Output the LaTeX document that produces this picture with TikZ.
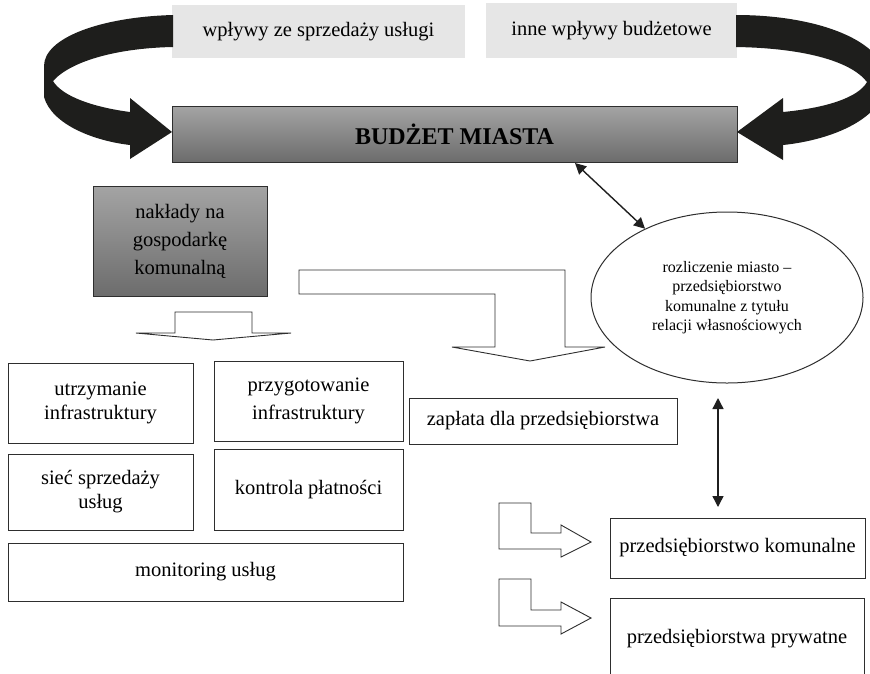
\documentclass[tikz,border=0pt]{standalone}
\usepackage{fontspec}
\setmainfont{Liberation Serif}
\usetikzlibrary{arrows.meta,shapes.geometric}
\definecolor{lightbox}{HTML}{E6E6E6}
\definecolor{darkfill}{HTML}{1E1E1C}
\definecolor{edge}{HTML}{2E2E2E}
\definecolor{gtop}{HTML}{A4A4A4}
\definecolor{gbot}{HTML}{6C6C6C}

\begin{document}
\begin{tikzpicture}[x=1pt,y=-1pt,
  txt/.style={font=\fontsize{20.5}{24}\selectfont, align=center, inner sep=0pt},
  srcbox/.style={txt, fill=lightbox},
  plainbox/.style={txt, draw=edge, line width=1pt, fill=white},
  greybox/.style={txt, draw=edge, line width=1pt, top color=gtop, bottom color=gbot},
  blockarrow/.style={draw=edge, line width=0.9pt, fill=white, line join=miter},
  bigarrow/.style={fill=darkfill, draw=none},
  dbl/.style={{Triangle[length=11pt,width=11pt]}-{Triangle[length=11pt,width=11pt]}, line width=1.4pt, draw=black!88}
]
\useasboundingbox (0,0) rectangle (870,673);
\clip (0,0) rectangle (870,673);

% income sources and the city budget
\node[srcbox, minimum width=293pt, minimum height=53pt] (src1) at (318.5,31.5) {wpływy ze sprzedaży usługi};
\node[srcbox, minimum width=251pt, minimum height=55pt] (src2) at (611.5,30.5) {inne wpływy budżetowe};
\node[greybox, minimum width=565pt, minimum height=56pt, font=\fontsize{24}{28}\selectfont\bfseries] (budget) at (454.5,134) {BUDŻET MIASTA};

% curved flows into the budget
\fill[bigarrow] (173,15) .. controls (100,17) and (44,38) .. (44,66) -- (44,97)
  .. controls (52,125) and (95,141) .. (130,145) -- (130,159) -- (172,132) -- (130,98) -- (130,112)
  .. controls (92,107) and (62,96) .. (53,81) .. controls (72,60) and (120,48) .. (173,47) -- cycle;
\fill[bigarrow] (736,15) .. controls (820,15) and (886,42) .. (886,80)
  .. controls (886,118) and (832,140) .. (783,145) -- (783,160) -- (737,132) -- (783,98) -- (783,112)
  .. controls (825,108) and (858,98) .. (867,82) .. controls (850,60) and (800,48) .. (736,47) -- cycle;

% municipal spending and its uses
\node[greybox, minimum width=174pt, minimum height=110pt, font=\fontsize{20.5}{28}\selectfont] (naklady) at (180,241) {nakłady na\\gospodarkę\\komunalną};

\filldraw[blockarrow] (175,312) -- (252,312) -- (252,333) -- (291,333) -- (213,340) -- (136,333) -- (175,333) -- cycle;
\filldraw[blockarrow] (299,270) -- (565,270) -- (565,347) -- (605,347) -- (530,361) -- (452,347) -- (495,347) -- (495,294) -- (299,294) -- cycle;

\node[plainbox, minimum width=185pt, minimum height=80pt] (utrz) at (100.5,403) {utrzymanie\\infrastruktury};
\node[plainbox, minimum width=189pt, minimum height=80pt, font=\fontsize{20.5}{28}\selectfont] (przyg) at (308.5,401) {przygotowanie\\infrastruktury};
\node[plainbox, minimum width=268pt, minimum height=46pt] (zaplata) at (543,421) {zapłata dla przedsiębiorstwa};
\node[plainbox, minimum width=185pt, minimum height=76pt] (siec) at (100.5,492) {sieć sprzedaży\\usług};
\node[plainbox, minimum width=189pt, minimum height=81pt] (kontrola) at (308.5,489.5) {kontrola płatności};
\node[plainbox, minimum width=395pt, minimum height=58pt] (monit) at (205.5,572) {monitoring usług};

% settlement between city and company
\node[ellipse, draw=edge, line width=1pt, fill=white, inner sep=0pt, minimum width=272pt, minimum height=171pt,
  align=center, font=\fontsize{16}{19.5}\selectfont] (ell) at (727,297.5)
  {rozliczenie miasto –\\przedsiębiorstwo\\komunalne z tytułu\\relacji własnościowych};

\coordinate (b1) at (575,163);
\draw[dbl] (b1) -- (ell.140);
\coordinate (v1) at (718,398);
\coordinate (v2) at (718,507);
\draw[dbl] (v1) -- (v2);

% companies
\filldraw[blockarrow] (499,503) -- (531,503) -- (531,533) -- (561,533) -- (561,525) -- (591,542) -- (561,557) -- (561,549) -- (499,549) -- cycle;
\filldraw[blockarrow] (499,579) -- (531,579) -- (531,610) -- (561,610) -- (561,602) -- (591,618) -- (561,634) -- (561,626) -- (499,626) -- cycle;

\node[plainbox, minimum width=255pt, minimum height=60pt] (pk) at (737.5,548) {przedsiębiorstwo komunalne};
\node[plainbox, minimum width=254pt, minimum height=82pt] (pp) at (737,639) {przedsiębiorstwa prywatne};
\end{tikzpicture}
\end{document}
